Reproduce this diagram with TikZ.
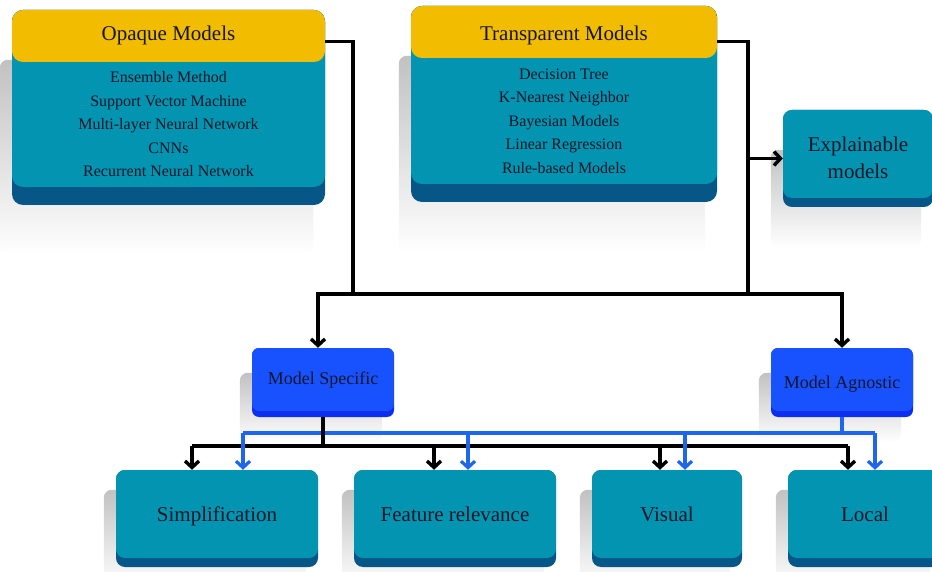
\documentclass[tikz,border=0pt]{standalone}
\usepackage{fontspec}
\setmainfont{Liberation Serif}
\usepackage{xcolor}
\usetikzlibrary{arrows.meta,fadings,backgrounds}

\definecolor{headYellow}{RGB}{242,189,0}
\definecolor{cardFace}{RGB}{2,148,176}
\definecolor{cardDark}{RGB}{6,86,136}
\definecolor{blueFace}{RGB}{24,82,255}
\definecolor{blueDark}{RGB}{12,46,240}
\definecolor{arrowBlue}{RGB}{30,102,238}
\definecolor{inkDark}{RGB}{20,22,40}
\definecolor{shadowGrey}{RGB}{160,160,160}

\tikzfading[name=shadefade, top color=transparent!35, bottom color=transparent!100]

\newcommand{\castshadow}[3]{%
  \fill[shadowGrey, path fading=shadefade, rounded corners=8pt]
    ([xshift=-#2,yshift=-#3]#1.north west) rectangle ([xshift=-#2,yshift=-#3]#1.south east);}

\tikzset{
  card/.style={rounded corners=9pt, fill=cardDark, inner sep=0pt,
    path picture={\fill[cardFace] (path picture bounding box.north west) rectangle ([yshift=#1]path picture bounding box.south east);}},
  card/.default=9pt,
  headcard/.style={rounded corners=11pt, fill=cardDark, inner sep=0pt,
    path picture={\fill[cardFace] (path picture bounding box.north west) rectangle ([yshift=18pt]path picture bounding box.south east);
      \fill[headYellow] (path picture bounding box.north west) rectangle ([yshift=-52pt]path picture bounding box.north east);}},
  bluecard/.style={rounded corners=7pt, fill=blueDark, inner sep=0pt,
    path picture={\fill[blueFace] (path picture bounding box.north west) rectangle ([yshift=6pt]path picture bounding box.south east);}},
  headtext/.style={font=\fontsize{21}{25}\selectfont, text=inkDark, inner sep=0pt},
  listtext/.style={font=\fontsize{16}{23.5}\selectfont, text=inkDark, align=center, inner sep=0pt},
  boxtext/.style={font=\fontsize{21}{27}\selectfont, text=inkDark, align=center, inner sep=0pt},
  lbltext/.style={boxtext, anchor=base},
  midtext/.style={font=\fontsize{18}{22}\selectfont, text=inkDark, inner sep=0pt},
  link/.style={line width=3.4pt, black},
  bluelink/.style={line width=3.2pt, arrowBlue},
  tip/.style={-{Straight Barb[length=6.5pt,width=14pt]}}
}

\begin{document}
\begin{tikzpicture}[x=1pt,y=-1pt]
\useasboundingbox (0,0) rectangle (932,572);

%Shape: top boxes
\node[headcard, minimum width=313pt, minimum height=195pt] (opq) at (168.5,107.5) {};
\node[headcard, minimum width=306pt, minimum height=196pt] (tra) at (564,104) {};
\node[card, minimum width=150pt, minimum height=97pt] (expl) at (858,158.5) {};

%Shape: middle boxes
\node[bluecard, minimum width=142pt, minimum height=69pt] (spec) at (323,382.5) {};
\node[bluecard, minimum width=142pt, minimum height=69pt] (agn) at (842,382.5) {};

%Shape: bottom boxes
\node[card, minimum width=202pt, minimum height=97pt] (simp) at (217,518.5) {};
\node[card, minimum width=202pt, minimum height=97pt] (feat) at (455,518.5) {};
\node[card, minimum width=150pt, minimum height=97pt] (vis) at (667,518.5) {};
\node[card, minimum width=154pt, minimum height=97pt] (loc) at (865,518.5) {};

\begin{scope}[on background layer]
  \castshadow{opq}{12pt}{50pt}
  \castshadow{tra}{12pt}{50pt}
  \castshadow{expl}{12pt}{40pt}
  \castshadow{spec}{12pt}{25pt}
  \castshadow{agn}{12pt}{25pt}
  \castshadow{simp}{12pt}{20pt}
  \castshadow{feat}{12pt}{20pt}
  \castshadow{vis}{12pt}{20pt}
  \castshadow{loc}{12pt}{20pt}
\end{scope}

% Text Node
\node[headtext] (opqTitle) at (168.5,35) {Opaque Models};
% Text Node
\node[listtext] (opqList) at (168.5,124.5) {Ensemble Method\\Support Vector Machine\\Multi-layer Neural Network\\CNNs\\Recurrent Neural Network};
% Text Node
\node[headtext] (traTitle) at (564,35) {Transparent Models};
% Text Node
\node[listtext] (traList) at (564,121) {Decision Tree\\K-Nearest Neighbor\\Bayesian Models\\Linear Regression\\Rule-based Models};
% Text Node
\node[boxtext] (explText) at (858,158) {Explainable\\models};
% Text Node
\node[midtext] (specText) at (323,380) {Model Specific};
% Text Node
\node[midtext] (agnText) at (842,384) {Model Agnostic};
% Text Node
\node[lbltext] (simpText) at (217,521) {Simplification};
% Text Node
\node[lbltext] (featText) at (455,521) {Feature relevance};
% Text Node
\node[lbltext] (visText) at (667,521) {Visual};
% Text Node
\node[lbltext] (locText) at (865,521) {Local};

% upper connectors
\coordinate (jOpq) at (353,294);
\coordinate (jTra) at (748,294);
\draw[link] ([yshift=-32pt]opq.north east) -| (jOpq);
\draw[link] ([yshift=-36pt]tra.north east) -| (jTra);
\draw[link, tip] (jTra |- expl.west) -- (expl.west);
\draw[link] (jOpq) -- (jTra);
\draw[link, tip] (jOpq) -| ([xshift=-5pt]spec.north);
\draw[link, tip] (jTra) -| (agn.north);

% lower connectors
\coordinate (blBus) at (0,433);
\coordinate (bkBus) at (0,446);
\draw[bluelink] (agn.south) -- (agn.south |- blBus);
\draw[bluelink] ([xshift=26pt]simp.north |- blBus) -- ([xshift=10pt]loc.north |- blBus);
\draw[link] (spec.south) -- (spec.south |- bkBus);
\draw[link] ([xshift=-25pt]simp.north |- bkBus) -- ([xshift=-17pt]loc.north |- bkBus);
\foreach \n/\dk in {simp/-25, feat/-21, vis/-7, loc/-17}
  \draw[link, tip] ([xshift=\dk pt]\n.north |- bkBus) -- ([xshift=\dk pt]\n.north);
\foreach \n/\dl in {simp/26, feat/13, vis/18, loc/10}
  \draw[bluelink, tip] ([xshift=\dl pt]\n.north |- blBus) -- ([xshift=\dl pt]\n.north);

\end{tikzpicture}
\end{document}
